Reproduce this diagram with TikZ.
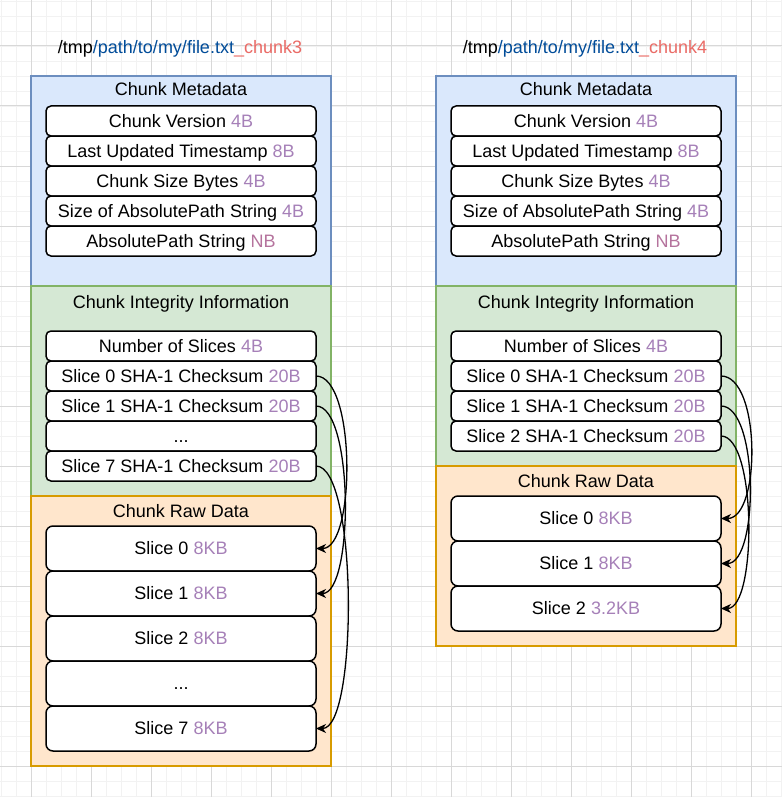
\documentclass[tikz,border=0pt]{standalone}
\usepackage{fontspec}
\setmainfont{Liberation Sans}
\usetikzlibrary{arrows.meta}
\definecolor{pur}{HTML}{A680B8}
\definecolor{pinkp}{HTML}{B5739D}
\definecolor{redt}{HTML}{EA6B66}
\definecolor{bluet}{HTML}{004C99}
\definecolor{bfill}{HTML}{DAE8FC}
\definecolor{bline}{HTML}{6C8EBF}
\definecolor{gfill}{HTML}{D5E8D4}
\definecolor{gline}{HTML}{82B366}
\definecolor{ofill}{HTML}{FFE6CC}
\definecolor{oline}{HTML}{D79B00}
\newcommand\szc[1]{\textcolor{pur}{#1}}
\begin{document}
\begin{tikzpicture}[x=1pt,y=-1pt,
  txt/.style={font=\fontsize{18}{21}\selectfont, inner sep=0pt, outer sep=0pt, text height=12.9pt, text depth=0pt},
  cont/.style={draw, line width=1.5pt, inner sep=0pt, outer sep=0pt, minimum width=300pt},
  field/.style={txt, draw=black, fill=white, line width=1.5pt, rounded corners=5pt, minimum width=270pt, minimum height=30pt},
  slicebox/.style={field, rounded corners=7pt, minimum height=45pt},
  conn/.style={line width=1.3pt, -{Stealth[length=10pt,width=9pt,inset=3pt]}},
  minorgrid/.style={draw={rgb,255:red,242;green,242;blue,242}, line width=0.8pt},
  majorgrid/.style={draw={rgb,255:red,216;green,216;blue,216}, line width=1pt}]
\useasboundingbox (0,0) rectangle (782,797);
\fill[white] (0,0) rectangle (782,797);
\foreach \x in {1,16,...,781} \draw[minorgrid] (\x,0) -- (\x,797);
\foreach \y in {1,16,...,796} \draw[minorgrid] (0,\y) -- (782,\y);
\foreach \x in {31,91,...,751} \draw[majorgrid] (\x,0) -- (\x,797);
\foreach \y in {46,106,...,766} \draw[majorgrid] (0,\y) -- (782,\y);

% ---------- left column ----------
\node[txt] (lt) at (180,47.5) {/tmp\textcolor{bluet}{/path/to/my/file.txt}\textcolor{redt}{\_chunk3}};
\node[cont, draw=bline, fill=bfill, minimum height=210pt] (lmeta) at (181,181) {};
\node[cont, draw=gline, fill=gfill, minimum height=210pt] (linteg) at (181,391) {};
\node[cont, draw=oline, fill=ofill, minimum height=270pt] (lraw) at (181,631) {};
\node[txt] (lmetat) at (181,89) {Chunk Metadata};
\node[txt] (lintegt) at (181,302) {Chunk Integrity Information};
\node[txt] (lrawt) at (181,511) {Chunk Raw Data};

\node[field] (lm1) at (181,121) {Chunk Version \szc{4B}};
\node[field] (lm2) at (181,151) {Last Updated Timestamp \szc{8B}};
\node[field] (lm3) at (181,181) {Chunk Size Bytes \szc{4B}};
\node[field] (lm4) at (181,211) {Size of AbsolutePath String \szc{4B}};
\node[field] (lm5) at (181,241) {AbsolutePath String \textcolor{pinkp}{NB}};

\node[field] (lns) at (181,346) {Number of Slices \szc{4B}};
\node[field] (lc0) at (181,376) {Slice 0 SHA-1 Checksum \szc{20B}};
\node[field] (lc1) at (181,406) {Slice 1 SHA-1 Checksum \szc{20B}};
\node[field] (lcd) at (181,436) {...};
\node[field] (lc7) at (181,466) {Slice 7 SHA-1 Checksum \szc{20B}};

\node[slicebox] (ls0) at (181,548.5) {Slice 0 \szc{8KB}};
\node[slicebox] (ls1) at (181,593.5) {Slice 1 \szc{8KB}};
\node[slicebox] (ls2) at (181,638.5) {Slice 2 \szc{8KB}};
\node[slicebox] (lsd) at (181,683.5) {...};
\node[slicebox] (ls7) at (181,728.5) {Slice 7 \szc{8KB}};

\draw[conn] (lc0.east) .. controls +(40,0) and +(40,0) .. (ls0.east);
\draw[conn] (lc1.east) .. controls +(38,0) and +(38,0) .. (ls1.east);
\draw[conn] (lc7.east) .. controls +(42,0) and +(42,0) .. (ls7.east);

% ---------- right column ----------
\node[txt] (rt) at (585,47.5) {/tmp\textcolor{bluet}{/path/to/my/file.txt}\textcolor{redt}{\_chunk4}};
\node[cont, draw=bline, fill=bfill, minimum height=210pt] (rmeta) at (586,181) {};
\node[cont, draw=gline, fill=gfill, minimum height=180pt] (rinteg) at (586,376) {};
\node[cont, draw=oline, fill=ofill, minimum height=180pt] (rraw) at (586,556) {};
\node[txt] (rmetat) at (586,89) {Chunk Metadata};
\node[txt] (rintegt) at (586,302) {Chunk Integrity Information};
\node[txt] (rrawt) at (586,481) {Chunk Raw Data};

\node[field] (rm1) at (586,121) {Chunk Version \szc{4B}};
\node[field] (rm2) at (586,151) {Last Updated Timestamp \szc{8B}};
\node[field] (rm3) at (586,181) {Chunk Size Bytes \szc{4B}};
\node[field] (rm4) at (586,211) {Size of AbsolutePath String \szc{4B}};
\node[field] (rm5) at (586,241) {AbsolutePath String \textcolor{pinkp}{NB}};

\node[field] (rns) at (586,346) {Number of Slices \szc{4B}};
\node[field] (rc0) at (586,376) {Slice 0 SHA-1 Checksum \szc{20B}};
\node[field] (rc1) at (586,406) {Slice 1 SHA-1 Checksum \szc{20B}};
\node[field] (rc2) at (586,436) {Slice 2 SHA-1 Checksum \szc{20B}};

\node[slicebox] (rs0) at (586,518.5) {Slice 0 \szc{8KB}};
\node[slicebox] (rs1) at (586,563.5) {Slice 1 \szc{8KB}};
\node[slicebox] (rs2) at (586,608.5) {Slice 2 \szc{3.2KB}};

\draw[conn] (rc0.east) .. controls +(40,0) and +(40,0) .. (rs0.east);
\draw[conn] (rc1.east) .. controls +(38,0) and +(38,0) .. (rs1.east);
\draw[conn] (rc2.east) .. controls +(36,0) and +(36,0) .. (rs2.east);
\end{tikzpicture}
\end{document}
